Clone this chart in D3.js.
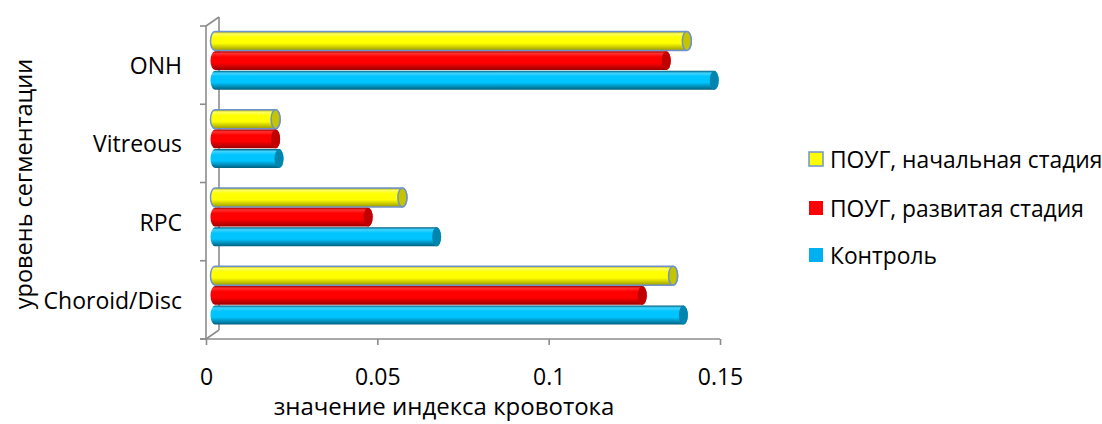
<!DOCTYPE html>
<html>
<head>
<meta charset="utf-8">
<script src="https://cdn.jsdelivr.net/npm/d3@7/dist/d3.min.js"></script>
<style>
  html, body { margin: 0; padding: 0; background: #fff; }
  svg { display: block; font-family: "Open Sans", "Noto Sans", sans-serif; }
</style>
</head>
<body>
<svg id="chart" width="1102" height="424"></svg>
<script>
// Segmentation levels (top to bottom)
const categories = ["ONH", "Vitreous", "RPC", "Choroid/Disc"];
// Series names in legend order
const seriesNames = ["ПОУГ, начальная стадия", "ПОУГ, развитая стадия", "Контроль"];
// Blood-flow index per level, one array per series
const earlyStage    = [0.139, 0.019, 0.056, 0.135];
const advancedStage = [0.133, 0.019, 0.046, 0.126];
const control       = [0.147, 0.020, 0.066, 0.138];
const seriesValues = [earlyStage, advancedStage, control];
// Value axis ticks
const xTicks = [0, 0.05, 0.1, 0.15];
const xTickLabels = ["0", "0.05", "0.1", "0.15"];
const xTitle = "значение индекса кровотока";
const yTitle = "уровень сегментации";

const palette = [
  { base: "#FFFF00", light: "#FFFF66", dark: "#9C9C00", cap: "#C4C400", outline: "#6F93CC", key: "#FFFF00" },
  { base: "#FF0000", light: "#FF3030", dark: "#9A0000", cap: "#C00000", outline: null, key: "#FF0000" },
  { base: "#00C4FF", light: "#40D4FF", dark: "#00607E", cap: "#0086AE", outline: null, key: "#00B0F0" }
];

const svg = d3.select("#chart");
const axisColor = "#8C8C8C";

// Front plane geometry and depth offsets of the 3D box
const xLeft = 206, xRight = 720;
const yTop = 26, yBottom = 339;
const back = { dx: 13, dy: -9 };
const mid = { dx: 4.5, dy: -4.5 };

const x = d3.scaleLinear().domain([0, 0.15]).range([xLeft, xRight]);
const y = d3.scaleBand().domain(categories).range([yTop, yBottom]).paddingInner(0).paddingOuter(0);
const gap = 9.6;
const ySeries = d3.scaleBand().domain(d3.range(seriesNames.length))
  .range([gap, y.bandwidth() - gap]).padding(0);

// Gradients for cylinder shading
const defs = svg.append("defs");
palette.forEach((p, i) => {
  const g = defs.append("linearGradient").attr("id", "cyl" + i)
    .attr("x1", 0).attr("y1", 0).attr("x2", 0).attr("y2", 1);
  [[0, p.dark], [0.12, p.light], [0.3, p.base], [0.62, p.base], [1, p.dark]]
    .forEach(([o, c]) => g.append("stop").attr("offset", o).attr("stop-color", c));
});

// Box outline: category axis with its back edge
const boxG = svg.append("g").attr("stroke", axisColor).attr("stroke-width", 1.6).attr("fill", "none");
boxG.append("line").attr("x1", xLeft).attr("x2", xLeft).attr("y1", yTop).attr("y2", yBottom);
boxG.append("line").attr("x1", xLeft + back.dx).attr("x2", xLeft + back.dx)
  .attr("y1", yTop + back.dy).attr("y2", yBottom + back.dy);
boxG.append("line").attr("x1", xLeft).attr("y1", yTop).attr("x2", xLeft + back.dx).attr("y2", yTop + back.dy);
boxG.append("line").attr("x1", xLeft).attr("y1", yBottom).attr("x2", xLeft + back.dx).attr("y2", yBottom + back.dy);

// Category ticks on the left
const catBounds = categories.map(c => y(c)).concat([yBottom]);
boxG.selectAll("line.ct").data(catBounds).join("line").attr("class", "ct")
  .attr("x1", xLeft - 6).attr("x2", xLeft).attr("y1", d => d).attr("y2", d => d);

// Value axis
const xAxis = d3.axisBottom(x).tickValues(xTicks).tickFormat((d, i) => xTickLabels[i])
  .tickSize(6).tickPadding(14);
const xg = svg.append("g").attr("transform", `translate(0,${yBottom})`).call(xAxis);
xg.select(".domain").attr("stroke", axisColor).attr("stroke-width", 1.6)
  .attr("d", `M${xLeft - 6},0H${xRight}`);
xg.selectAll(".tick line").attr("stroke", axisColor).attr("stroke-width", 1.6);
xg.selectAll(".tick text").attr("font-size", 23).attr("fill", "#000")
  .attr("font-family", "Open Sans, sans-serif")
  .attr("y", 38).attr("dy", "0.35em");

// Category labels
svg.append("g").selectAll("text").data(categories).join("text")
  .attr("x", 182).attr("y", d => y(d) + y.bandwidth() / 2)
  .attr("text-anchor", "end").attr("dominant-baseline", "central")
  .attr("font-size", 23).attr("fill", "#000").text(d => d);

// Axis titles
svg.append("text").attr("x", 444).attr("y", 415).attr("text-anchor", "middle")
  .attr("font-size", 24).text(xTitle);
svg.append("text").attr("transform", "translate(23,184) rotate(-90)")
  .attr("text-anchor", "middle").attr("dominant-baseline", "central")
  .attr("font-size", 23.5).text(yTitle);

// Cylinders
const capRx = 4.5;
const barsG = svg.append("g");
categories.forEach((cat, ci) => {
  seriesValues.forEach((vals, si) => {
    const p = palette[si];
    const h = ySeries.bandwidth();
    const top = y(cat) + ySeries(si) + mid.dy + 0.4;
    const hh = h - 0.8;
    const x0 = x(0) + mid.dx + capRx;
    const x1 = x(vals[ci]) + mid.dx;
    const ry = hh / 2;
    const cy = top + ry;
    const body = `M${x0},${top} L${x1},${top} A${capRx},${ry} 0 0 1 ${x1},${top + hh} ` +
      `L${x0},${top + hh} A${capRx},${ry} 0 0 1 ${x0},${top} Z`;
    const g = barsG.append("g");
    g.append("path").attr("d", body).attr("fill", `url(#cyl${si})`)
      .attr("stroke", p.outline || "none").attr("stroke-width", 1.5);
    g.append("ellipse").attr("cx", x1).attr("cy", cy).attr("rx", capRx).attr("ry", ry)
      .attr("fill", p.cap).attr("stroke", p.outline || "none").attr("stroke-width", 1.5);
  });
});

// Legend
const legend = svg.append("g");
const legendY = [159, 208, 255];
seriesNames.forEach((name, i) => {
  const p = palette[i];
  legend.append("rect").attr("x", 809).attr("y", legendY[i] - 7).attr("width", 14).attr("height", 14)
    .attr("fill", p.key)
    .attr("stroke", p.outline || "none").attr("stroke-width", 1.5);
  legend.append("text").attr("x", 830).attr("y", legendY[i]).attr("dominant-baseline", "central")
    .attr("font-size", 22.8).attr("fill", "#000").text(name);
});
</script>
</body>
</html>
